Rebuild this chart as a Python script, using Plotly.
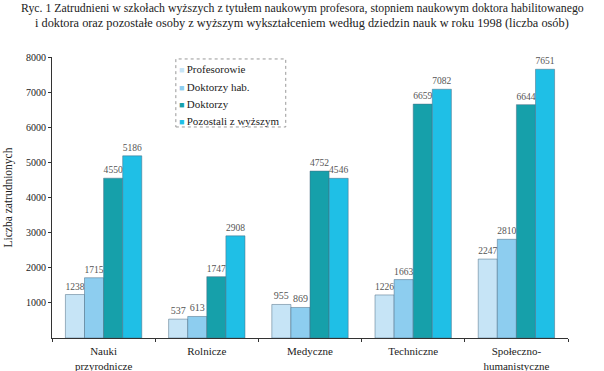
import plotly.graph_objects as go

categories = ["Nauki<br>przyrodnicze", "Rolnicze", "Medyczne", "Techniczne", "Społeczno-<br>humanistyczne"]
series_names = ["Profesorowie", "Doktorzy hab.", "Doktorzy", "Pozostali z wyższym"]
profesorowie = [1238, 537, 955, 1226, 2247]
doktorzy_hab = [1715, 613, 869, 1663, 2810]
doktorzy = [4550, 1747, 4752, 6659, 6644]
pozostali = [5186, 2908, 4546, 7082, 7651]
y_ticks = [1000, 2000, 3000, 4000, 5000, 6000, 7000, 8000]

colors = ["#c6e4f6", "#8dcdef", "#16a0aa", "#1fbfe6"]
values = [profesorowie, doktorzy_hab, doktorzy, pozostali]

FONT = "Liberation Serif, serif"
TXT = "#222222"

fig = go.Figure()
for name, vals, col in zip(series_names, values, colors):
    fig.add_trace(go.Bar(
        x=categories, y=vals, name=name,
        marker=dict(color=col, line=dict(color="#4a6a80", width=0.5)),
        text=[str(v) for v in vals], textposition="outside",
        textfont=dict(family=FONT, size=10, color="#555555"),
        cliponaxis=False,
    ))

fig.update_layout(
    width=604, height=371,
    margin=dict(l=52, r=36, t=57, b=33, autoexpand=False),
    paper_bgcolor="white", plot_bgcolor="white",
    font=dict(family=FONT, size=10, color=TXT),
    barmode="group", bargap=0.26, bargroupgap=0,
    showlegend=False,
)

title_lines = [
    "Ryc. 1 Zatrudnieni w szkołach wyższych z tytułem naukowym profesora, stopniem naukowym doktora habilitowanego",
    "i doktora oraz pozostałe osoby z wyższym wykształceniem według dziedzin nauk w roku 1998 (liczba osób)",
]
for line, yy, fs in zip(title_lines, [1.174, 1.121], [11.8, 12.3]):
    fig.add_annotation(text=line, xref="paper", yref="paper", x=(302 - 52) / 516, y=yy,
                       xanchor="center", yanchor="middle", showarrow=False,
                       font=dict(family=FONT, size=fs, color=TXT))

# legend box
fig.add_shape(type="rect", xref="paper", yref="paper",
              x0=0.240, x1=0.453, y0=0.751, y1=0.993,
              line=dict(color="#999999", width=1, dash="dot"),
              fillcolor="white", layer="below")
for name, col, yy in zip(series_names, colors, [0.957, 0.895, 0.834, 0.773]):
    fig.add_annotation(
        text=f"<span style='color:{col};font-size:9px'>■ </span>{name}",
        xref="paper", yref="paper", x=0.243, y=yy, xanchor="left", yanchor="middle",
        showarrow=False, font=dict(family=FONT, size=11, color=TXT))

fig.update_xaxes(
    showline=True, linecolor="#333333", linewidth=1,
    ticks="outside", ticklen=3, tickcolor="#333333",
    tickson="boundaries", showgrid=False, ticklabelstandoff=3,
    automargin=False,
    tickfont=dict(family=FONT, size=11, color=TXT),
)
fig.update_yaxes(
    range=[0, 8000], tickvals=y_ticks, ticktext=[str(v) for v in y_ticks],
    showline=True, linecolor="#333333", linewidth=1,
    ticks="outside", ticklen=3, tickcolor="#333333",
    showgrid=False, zeroline=False, automargin=False,
    tickfont=dict(family=FONT, size=10, color=TXT),
    title=dict(text="Liczba zatrudnionych", font=dict(family=FONT, size=11.5, color=TXT), standoff=10),
)

fig.write_html("out.html", config={"displayModeBar": False},
               post_script="document.body.style.margin='0';")
